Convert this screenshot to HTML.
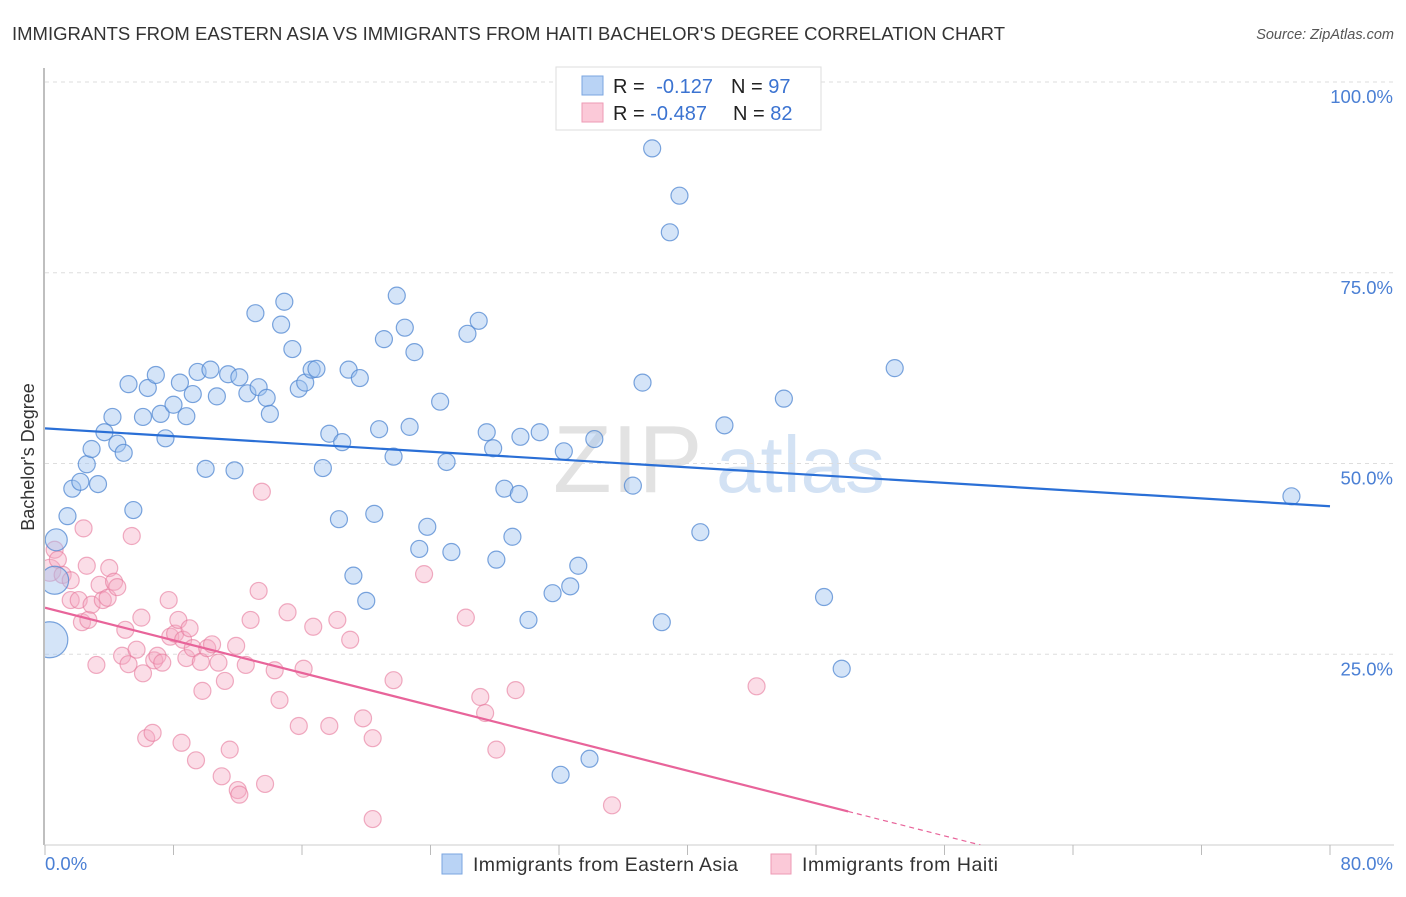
<!DOCTYPE html>
<html><head><meta charset="utf-8">
<style>
body{margin:0;background:#fff;font-family:"Liberation Sans",sans-serif;}
svg text{font-family:"Liberation Sans",sans-serif;}
</style></head><body>
<svg id="c" width="1406" height="892" xmlns="http://www.w3.org/2000/svg">
<text x="12" y="40" font-size="18.5" fill="#333" textLength="993">IMMIGRANTS FROM EASTERN ASIA VS IMMIGRANTS FROM HAITI BACHELOR'S DEGREE CORRELATION CHART</text>
<text x="1394" y="39" font-size="14.5" fill="#555" font-style="italic" text-anchor="end">Source: ZipAtlas.com</text>
<g><text x="553" y="492" font-size="96" fill="#e2e2e2" font-family="Liberation Serif">ZIP</text><text x="716" y="492" font-size="80" fill="#d3e2f4">atlas</text></g>
<g id="grid"></g>
<g id="axes"></g>
<defs><clipPath id="pc"><rect x="45" y="60" width="1360" height="785"/></clipPath></defs>
<g id="marks" clip-path="url(#pc)"></g>
<g>
<rect x="556" y="67" width="265" height="63" fill="#fff" stroke="#ddd"/>
<rect x="582" y="76" width="21" height="19" fill="#b9d3f5" stroke="#7aa6e0"/>
<rect x="582" y="103" width="21" height="19" fill="#fbc9d8" stroke="#ee9ab5"/>
<text x="613" y="93" font-size="20" fill="#222">R = <tspan fill="#3b73d1" dx="6">-0.127</tspan><tspan dx="18" fill="#222">N = </tspan><tspan fill="#3b73d1">97</tspan></text>
<text x="613" y="120" font-size="20" fill="#222">R = <tspan fill="#3b73d1">-0.487</tspan><tspan dx="26" fill="#222">N = </tspan><tspan fill="#3b73d1">82</tspan></text>
</g>
<g>
<rect x="442" y="854" width="20" height="20" fill="#b9d3f5" stroke="#7aa6e0"/>
<text x="473" y="871" font-size="19.5" fill="#333" textLength="265">Immigrants from Eastern Asia</text>
<rect x="771" y="854" width="20" height="20" fill="#fbc9d8" stroke="#ee9ab5"/>
<text x="802" y="871" font-size="19.5" fill="#333" textLength="196">Immigrants from Haiti</text>
</g>
<text transform="translate(34,457) rotate(-90)" font-size="18" fill="#333" text-anchor="middle">Bachelor's Degree</text>
</svg>
<script>
const yTicks=[25,50,75,100];
const yTickLabels=["25.0%","50.0%","75.0%","100.0%"];
const xTicks=[0,10,20,30,40,50,60,70,80];
const blueX=[0.3,0.7,0.6,1.4,1.7,2.2,2.6,2.9,3.3,3.7,4.2,4.5,4.9,5.2,5.5,6.1,6.4,6.9,7.2,7.5,8.0,8.4,8.8,9.2,9.5,10.0,10.3,10.7,11.4,11.8,12.1,12.6,13.1,13.3,13.8,14.0,14.7,14.9,15.4,15.8,16.2,16.6,16.9,17.3,17.7,18.3,18.5,18.9,19.2,19.6,20.0,20.5,20.8,21.1,21.7,21.9,22.4,22.7,23.0,23.3,23.8,24.6,25.0,25.3,26.3,27.0,27.5,27.9,28.1,28.6,29.1,29.5,29.6,30.1,30.8,31.6,32.1,32.3,32.7,33.2,33.9,34.2,36.6,37.2,37.8,38.4,38.9,39.5,40.8,42.3,46.0,48.5,49.6,52.9,77.6];
const blueY=[26.9,40.0,34.7,43.1,46.7,47.6,49.9,51.9,47.3,54.1,56.1,52.6,51.4,60.4,43.9,56.1,59.9,61.6,56.5,53.3,57.7,60.6,56.2,59.1,62.0,49.3,62.3,58.8,61.7,49.1,61.3,59.2,69.7,60.0,58.6,56.5,68.2,71.2,65.0,59.8,60.6,62.3,62.4,49.4,53.9,42.7,52.8,62.3,35.3,61.2,32.0,43.4,54.5,66.3,50.9,72.0,67.8,54.8,64.6,38.8,41.7,58.1,50.2,38.4,67.0,68.7,54.1,52.0,37.4,46.7,40.4,46.0,53.5,29.5,54.1,33.0,9.2,51.6,33.9,36.6,11.3,53.2,47.1,60.6,91.3,29.2,80.3,85.1,41.0,55.0,58.5,32.5,23.1,62.5,45.7];
const pinkX=[0.3,0.6,0.8,1.1,1.6,1.6,2.1,2.3,2.4,2.6,2.7,2.9,3.2,3.4,3.6,3.9,4.0,4.3,4.5,4.8,5.0,5.2,5.4,5.7,6.0,6.1,6.3,6.7,6.8,7.0,7.3,7.7,7.8,8.1,8.3,8.5,8.6,8.8,9.0,9.2,9.4,9.7,9.8,10.1,10.4,10.8,11.0,11.2,11.5,11.9,12.0,12.1,12.5,12.8,13.3,13.5,13.7,14.3,14.6,15.1,15.8,16.1,16.7,17.7,18.2,19.0,19.8,20.4,20.4,21.7,23.6,26.2,27.1,27.4,28.1,29.3,35.3,44.3];
const pinkY=[36.0,38.7,37.4,35.4,32.1,34.7,32.1,29.2,41.5,36.6,29.5,31.5,23.6,34.1,32.1,32.4,36.3,34.5,33.8,24.8,28.2,23.7,40.5,25.6,29.8,22.5,14.0,14.7,24.2,24.8,23.9,32.1,27.3,27.7,29.5,13.4,26.9,24.5,28.4,25.8,11.1,24.0,20.2,25.8,26.3,23.9,9.0,21.5,12.5,26.1,7.2,6.6,23.6,29.5,33.3,46.3,8.0,22.9,19.0,30.5,15.6,23.1,28.6,15.6,29.5,26.9,16.6,14.0,3.4,21.6,35.5,29.8,19.4,17.3,12.5,20.3,5.2,20.8];
const blueTrend=[54.6,44.4];
const pinkTrend=[31.1,-0.534];

const L=45,R=1330,B=845,T=82;
const xs=v=>L+v/80*(R-L);
const ys=v=>B-v/100*(B-T);
const NS="http://www.w3.org/2000/svg";
function mk(tag,attrs,parent){const e=document.createElementNS(NS,tag);for(const k in attrs)e.setAttribute(k,attrs[k]);parent.appendChild(e);return e;}
const grid=document.getElementById('grid'),axes=document.getElementById('axes'),marks=document.getElementById('marks');
yTicks.forEach((t,i)=>{
  const g=mk('line',{x1:L,x2:1394,y1:ys(t),y2:ys(t),stroke:'#ddd','stroke-dasharray':'4,4'},grid);
  
  
  const tx=mk('text',{x:1393,y:ys(t)+21,'font-size':18.5,fill:'#4a7fd4','text-anchor':'end'},axes);
  tx.textContent=yTickLabels[i];
  
  
});
const ax=mk('line',{x1:L-1,x2:L-1,y1:68,y2:B,stroke:'#aaa','stroke-width':1.5},axes);


const bx=mk('line',{x1:L-1,x2:1394,y1:B,y2:B,stroke:'#ccc'},axes);


for(let i=0;i<=10;i++){const v=i*8;const tk=mk('line',{x1:xs(v),x2:xs(v),y1:B,y2:B+10,stroke:'#bbb'},axes);
  
  }
const x0=mk('text',{x:45,y:870,'font-size':18.5,fill:'#4a7fd4'},axes);x0.textContent='0.0%';


const x1=mk('text',{x:1393,y:870,'font-size':18.5,fill:'#4a7fd4','text-anchor':'end'},axes);x1.textContent='80.0%';


function rad(i,blue){if(blue){if(i===0)return 18;if(i===2)return 14;if(i===1)return 11;}else if(i===0)return 11;return 8.5;}
pinkX.forEach((x,i)=>{const c=mk('circle',{cx:xs(x),cy:ys(pinkY[i]),r:rad(i,false),fill:'rgba(244,170,195,0.4)',stroke:'rgba(230,120,155,0.6)','stroke-width':1.2},marks);
  
  });
blueX.forEach((x,i)=>{const c=mk('circle',{cx:xs(x),cy:ys(blueY[i]),r:rad(i,true),fill:'rgba(160,195,240,0.45)',stroke:'rgba(80,135,210,0.75)','stroke-width':1.2},marks);
  
  });
const bl=mk('line',{x1:xs(0),y1:ys(blueTrend[0]),x2:xs(80),y2:ys(blueTrend[1]),stroke:'#2a6fd6','stroke-width':2.2},marks);


const pe=50, pz=-pinkTrend[0]/pinkTrend[1];
const pl=mk('line',{x1:xs(0),y1:ys(pinkTrend[0]),x2:xs(pe),y2:ys(pinkTrend[0]+pinkTrend[1]*pe),stroke:'#e8649a','stroke-width':2.2},marks);


const pd=mk('line',{x1:xs(pe),y1:ys(pinkTrend[0]+pinkTrend[1]*pe),x2:xs(pz),y2:ys(0),stroke:'#e8649a','stroke-width':1.2,'stroke-dasharray':'5,4'},marks);


</script>
</body></html>
